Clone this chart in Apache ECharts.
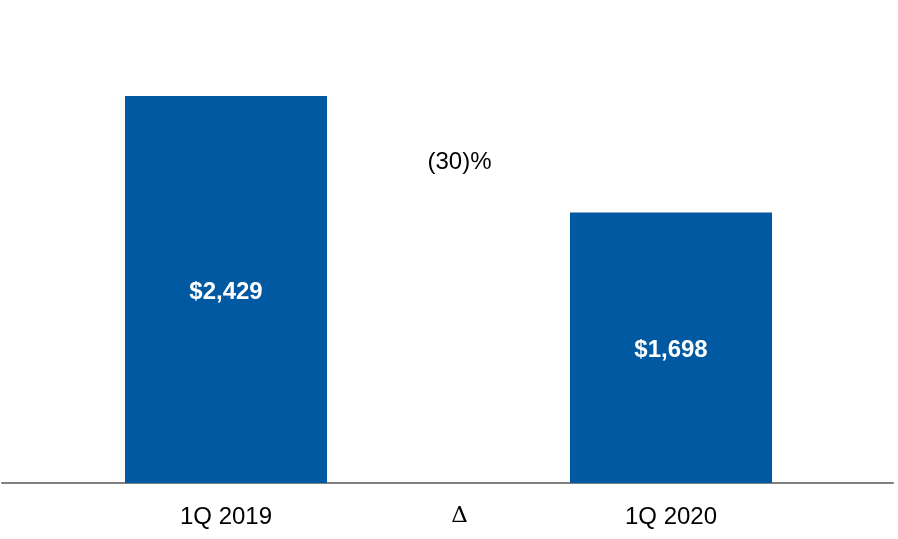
<!DOCTYPE html>
<html>
<head>
<meta charset="utf-8">
<script src="https://cdn.jsdelivr.net/npm/echarts@6/dist/echarts.min.js"></script>
<style>
html,body{margin:0;padding:0;background:#fff;}
#chart{width:898px;height:539px;}
</style>
</head>
<body>
<div id="chart"></div>
<script>
const categories = ['1Q 2019', 'Δ', '1Q 2020'];
const values = [2429, null, 1698];
const deltaLabel = '(30)%';
const deltaPosition = 2015;

const chart = echarts.init(document.getElementById('chart'), null, {renderer: 'canvas'});
const font = 'Liberation Sans, Arial, sans-serif';
chart.setOption({
  backgroundColor: '#ffffff',
  animation: false,
  grid: [
    {left: 114.75, right: 115.75, top: 5, bottom: 56},
    {left: 2, right: 5, top: 5, bottom: 56}
  ],
  xAxis: [
    {
      type: 'category', gridIndex: 0, data: categories,
      axisLine: {show: false}, axisTick: {show: false},
      axisLabel: {
        fontFamily: font, fontSize: 24, color: '#000', margin: 22,
        formatter: function (v) { return v === 'Δ' ? '{d|' + v + '}' : v; },
        rich: {d: {fontFamily: 'DejaVu Serif, serif', fontSize: 23, color: '#000', padding: [0, 0, 0, 22]}}
      }
    },
    {
      type: 'category', gridIndex: 1, data: [''],
      axisLine: {show: true, lineStyle: {color: '#808080', width: 2}},
      axisTick: {show: false}, axisLabel: {show: false}
    }
  ],
  yAxis: [
    {type: 'value', gridIndex: 0, min: 0, max: 3000, show: false, splitLine: {show: false}},
    {type: 'value', gridIndex: 1, min: 0, max: 3000, show: false, splitLine: {show: false}}
  ],
  series: [
    {
      type: 'bar', xAxisIndex: 0, yAxisIndex: 0,
      data: values, barWidth: 202,
      itemStyle: {color: '#0059A1'},
      label: {
        show: true, position: 'inside', offset: [0, 3], color: '#fff', fontFamily: font,
        fontSize: 24, fontWeight: 'bold',
        formatter: function (p) { return '$' + p.value.toLocaleString('en-US'); }
      }
    },
    {
      type: 'scatter', xAxisIndex: 0, yAxisIndex: 0,
      symbolSize: 0, itemStyle: {color: '#000', opacity: 1},
      data: [['Δ', deltaPosition]],
      label: {
        show: true, position: 'inside', offset: [11, 0], color: '#000',
        fontFamily: font, fontSize: 24, opacity: 1,
        formatter: function () { return deltaLabel; }
      }
    },
    {type: 'bar', xAxisIndex: 1, yAxisIndex: 1, data: [null]}
  ]
});
</script>
</body>
</html>
